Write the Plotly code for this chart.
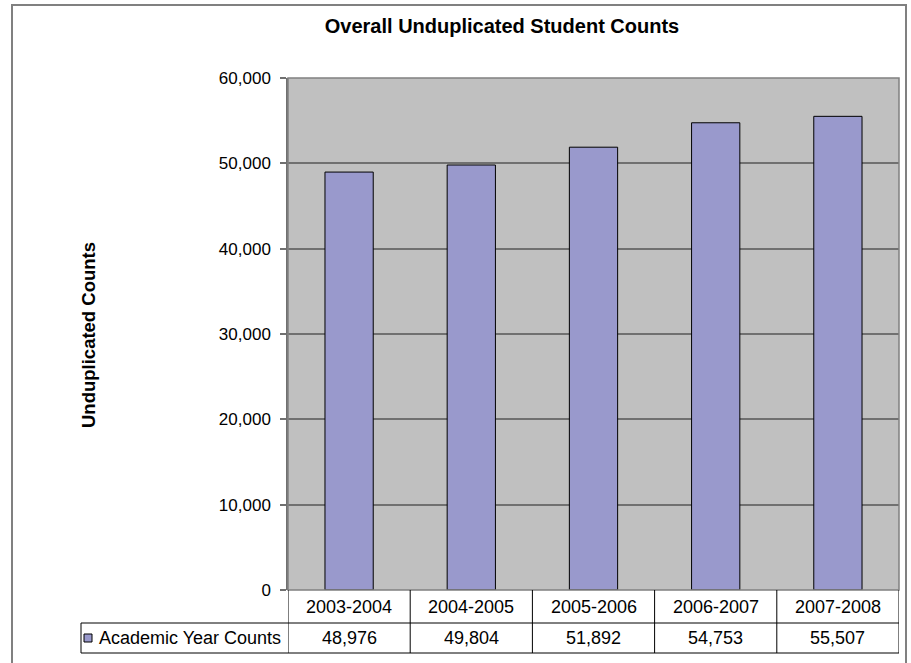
import plotly.graph_objects as go

categories = ["2003-2004", "2004-2005", "2005-2006", "2006-2007", "2007-2008"]
counts = [48976, 49804, 51892, 54753, 55507]
series_name = "Academic Year Counts"
chart_title = "Overall Unduplicated Student Counts"
y_title = "Unduplicated Counts"
y_ticks = [0, 10000, 20000, 30000, 40000, 50000, 60000]

W, H = 911, 663
L, R, T, B = 288, 12, 78, 73
pw = W - L - R
ph = H - T - B

def px_x(px):
    return (px - L) / pw

def px_y(py):
    return (H - B - py) / ph

FONT = "Liberation Sans, Arial, sans-serif"
BAR = "#9999CC"
GRID = "#707070"

fig = go.Figure()
fig.add_trace(go.Bar(
    x=categories, y=counts, name=series_name,
    marker=dict(color=BAR, line=dict(color="#000000", width=1)),
    width=0.395, showlegend=False,
))

shapes = []
annotations = []
n = len(categories)

# outer chart border
shapes.append(dict(type="rect", xref="paper", yref="paper",
                   x0=px_x(12), x1=px_x(906), y0=px_y(668), y1=px_y(5),
                   line=dict(color="#808080", width=2), layer="below"))
# plot area border
shapes.append(dict(type="rect", xref="paper", yref="paper", x0=0, x1=1, y0=0, y1=1,
                   line=dict(color="#808080", width=1.5), layer="above"))

# data table
row1_top, row1_bot, row2_bot = 590, 623, 653
tbl_left = 81
for i in range(n + 1):
    shapes.append(dict(type="line", xref="x", yref="paper",
                       x0=i - 0.5, x1=i - 0.5, y0=px_y(row1_top), y1=px_y(row2_bot),
                       line=dict(color="#000000", width=1)))
shapes.append(dict(type="line", xref="paper", yref="paper",
                   x0=px_x(tbl_left), x1=1, y0=px_y(row1_bot), y1=px_y(row1_bot),
                   line=dict(color="#000000", width=1)))
shapes.append(dict(type="line", xref="paper", yref="paper",
                   x0=px_x(tbl_left), x1=1, y0=px_y(row2_bot), y1=px_y(row2_bot),
                   line=dict(color="#000000", width=1)))
shapes.append(dict(type="line", xref="paper", yref="paper",
                   x0=px_x(tbl_left), x1=px_x(tbl_left), y0=px_y(row1_bot), y1=px_y(row2_bot),
                   line=dict(color="#000000", width=1)))
# legend key
shapes.append(dict(type="rect", xref="paper", yref="paper",
                   x0=px_x(84), x1=px_x(92), y0=px_y(642), y1=px_y(634),
                   fillcolor=BAR, line=dict(color="#000000", width=1)))

txt_font = dict(size=18, color="#000000", family=FONT)
for c, v in zip(categories, counts):
    annotations.append(dict(x=c, xref="x", y=px_y((row1_top + row1_bot) / 2), yref="paper",
                            xanchor="center", yanchor="middle",
                            text=c, showarrow=False, font=txt_font))
    annotations.append(dict(x=c, xref="x", y=px_y((row1_bot + row2_bot) / 2), yref="paper",
                            xanchor="center", yanchor="middle",
                            text=f"{v:,}", showarrow=False, font=txt_font))
annotations.append(dict(x=px_x(97), xref="paper", y=px_y((row1_bot + row2_bot) / 2), yref="paper",
                        xanchor="left", yanchor="middle", text=series_name, showarrow=False,
                        font=txt_font))
# y title
annotations.append(dict(x=px_x(88), xref="paper", y=px_y(335), yref="paper",
                        xanchor="center", yanchor="middle",
                        text=f"<b>{y_title}</b>", textangle=-90, showarrow=False,
                        font=dict(size=18.5, color="#000000", family=FONT)))

fig.update_layout(
    width=W, height=H,
    margin=dict(l=L, r=R, t=T, b=B, pad=0),
    paper_bgcolor="#FFFFFF", plot_bgcolor="#C0C0C0",
    title=dict(text=f"<b>{chart_title}</b>", x=502 / W, xref="container", xanchor="center",
               y=1 - 26 / H, yref="container", yanchor="middle",
               font=dict(size=20, color="#000000", family=FONT)),
    bargap=0.6,
    shapes=shapes, annotations=annotations,
    font=dict(family=FONT, color="#000000"),
)
fig.update_xaxes(showticklabels=False, showgrid=False, ticks="", showline=False,
                 range=[-0.5, n - 0.5], fixedrange=True)
fig.update_yaxes(range=[0, 60000], tickvals=y_ticks, tickformat=",",
                 ticks="outside", ticklen=6, tickcolor=GRID, tickwidth=1.5,
                 showline=True, linecolor=GRID, linewidth=1.5,
                 showgrid=True, gridcolor=GRID, gridwidth=1.5,
                 zeroline=False, ticklabelstandoff=6,
                 tickfont=dict(size=17, color="#000000", family=FONT))

fig.write_html("out.html")
